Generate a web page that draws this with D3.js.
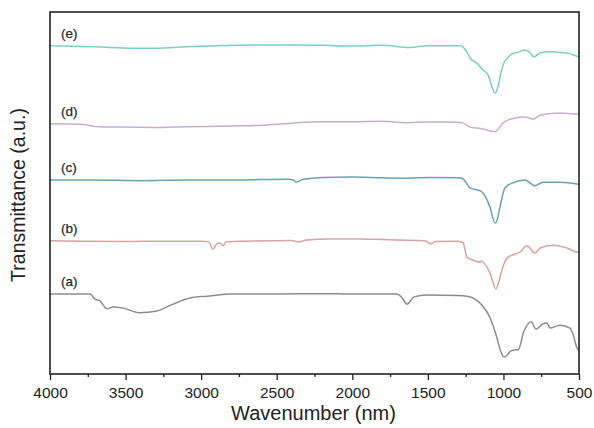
<!DOCTYPE html>
<html>
<head>
<meta charset="utf-8">
<script src="https://cdn.jsdelivr.net/npm/d3@7/dist/d3.min.js"></script>
<style>
  html, body { margin: 0; padding: 0; background: #fff; }
  svg { display: block; font-family: Arial, "Liberation Sans", sans-serif; }
</style>
</head>
<body>
<svg id="chart" width="594" height="428"></svg>
<script>
// FTIR spectra, offset vertically: [wavenumber (cm-1), transmittance (a.u.)]
const seriesA = [
  [4000,22.1],[3750,22.1],[3735,22.1],[3702,20.7],[3669,20.2],[3623,18.0],[3583,18.5],
  [3517,18.2],[3405,16.9],[3292,17.4],[3186,19.3],[3074,21.0],[2961,21.5],[2789,22.1],
  [2500,22.1],[2200,22.2],[2000,22.1],[1750,22.1],[1704,22.1],[1670,21.0],[1638,19.3],
  [1592,21.3],[1506,21.8],[1300,21.7],[1241,21.5],[1148,19.3],[1089,15.6],[1043,10.0],
  [1020,6.5],[996,4.7],[970,5.5],[950,6.4],[917,6.7],[903,6.6],[864,11.9],[844,13.5],
  [817,14.4],[784,12.4],[740,13.8],[712,14.1],[692,12.7],[626,13.5],[560,12.7],
  [540,11.0],[513,7.2],[500,6.5]
];
const seriesB = [
  [4000,36.8],[3800,36.7],[3500,36.6],[3200,36.7],[3000,36.7],[2950,36.5],[2922,34.5],
  [2895,36.0],[2875,36.2],[2855,35.4],[2835,36.5],[2700,36.7],[2400,36.9],[2360,36.5],
  [2300,37.0],[2167,37.3],[1942,37.3],[1700,37.0],[1520,36.8],[1479,35.9],[1450,36.6],
  [1300,36.7],[1267,36.2],[1241,32.2],[1221,31.8],[1155,30.9],[1148,31.2],[1089,27.9],
  [1049,23.5],[1030,25.5],[1010,28.7],[976,32.0],[890,33.7],[844,35.4],[791,33.4],
  [758,34.8],[672,35.6],[579,34.8],[513,33.7],[500,33.7]
];
const seriesC = [
  [4000,53.6],[3700,53.6],[3400,53.4],[3100,53.6],[2800,53.6],[2420,53.8],[2392,53.6],
  [2370,53.0],[2330,53.7],[2200,54.3],[2000,54.4],[1800,54.2],[1650,54.1],[1500,54.3],
  [1300,54.2],[1274,54.1],[1241,52.5],[1221,51.4],[1150,50.5],[1135,50.0],[1089,46.1],
  [1056,41.7],[1049,41.8],[1023,46.1],[990,51.4],[937,52.8],[857,53.6],[791,52.0],
  [738,53.0],[626,53.0],[513,52.5],[500,52.4]
];
const seriesD = [
  [4000,69.1],[3800,69.0],[3700,68.4],[3550,68.2],[3300,68.1],[3100,68.3],[2800,68.5],
  [2560,68.8],[2400,69.3],[2200,69.7],[2000,69.7],[1800,69.8],[1650,69.4],[1550,69.6],
  [1350,69.6],[1274,69.4],[1221,68.2],[1150,67.8],[1109,67.4],[1056,66.9],[1003,69.3],
  [937,70.6],[857,71.0],[804,70.4],[758,71.5],[626,72.1],[513,71.8],[500,71.8]
];
const seriesE = [
  [4000,90.7],[3700,90.4],[3451,90.0],[3300,90.0],[3100,90.4],[2900,90.7],[2611,90.9],
  [2412,90.9],[2200,90.8],[2000,90.6],[1800,90.8],[1620,90.2],[1500,90.7],[1300,90.7],
  [1274,90.6],[1261,90.0],[1241,89.0],[1221,87.3],[1180,86.0],[1135,84.0],[1100,82.5],
  [1076,79.3],[1056,77.6],[1049,77.8],[1030,80.5],[1010,84.3],[990,86.5],[976,87.2],
  [940,88.5],[910,88.8],[857,89.5],[830,89.0],[797,87.6],[758,88.7],[700,89.0],
  [672,89.0],[620,88.8],[579,88.7],[540,88.2],[500,87.6]
];

const seriesLabels = ["(a)", "(b)", "(c)", "(d)", "(e)"];
const seriesColors = ["#8c8c8c", "#d6a3a3", "#6aa2b1", "#c9adcf", "#80cbc8"];
const xTicks = [4000, 3500, 3000, 2500, 2000, 1500, 1000, 500];
const xMinorTicks = [3750, 3250, 2750, 2250, 1750, 1250, 750];

const allSeries = [seriesA, seriesB, seriesC, seriesD, seriesE];

const svg = d3.select("#chart");
const margin = { left: 50, top: 12, right: 15, bottom: 54 };
const W = 594, H = 428;
const plotW = W - margin.left - margin.right;
const plotH = H - margin.top - margin.bottom;

const x = d3.scaleLinear().domain([4000, 500]).range([margin.left, margin.left + plotW]);
const y = d3.scaleLinear().domain([0, 100]).range([margin.top + plotH, margin.top]);

const line = d3.line()
  .x(d => x(d[0]))
  .y(d => y(d[1]))
  .curve(d3.curveMonotoneX);

// spectra with their letter labels
const g = svg.append("g");
allSeries.forEach((s, i) => {
  g.append("path")
    .datum(s)
    .attr("fill", "none")
    .attr("stroke", seriesColors[i])
    .attr("stroke-width", 1.5)
    .attr("stroke-linejoin", "round")
    .attr("d", line);
  g.append("text")
    .attr("x", margin.left + 11)
    .attr("y", y(s[0][1]) - 12 + 4)
    .attr("font-size", 13.5)
    .attr("fill", "#2a2a2a")
    .attr("stroke", "#2a2a2a")
    .attr("stroke-width", 0.25)
    .text(seriesLabels[i]);
});

// bottom axis: major ticks with labels
const xAxis = d3.axisBottom(x).tickValues(xTicks).tickSize(6).tickFormat(d3.format("d"));
const ax = svg.append("g")
  .attr("transform", `translate(0,${margin.top + plotH})`)
  .call(xAxis);
ax.select(".domain").remove();
ax.selectAll(".tick line").attr("stroke", "#222").attr("stroke-width", 1.3);
ax.selectAll(".tick text")
  .attr("y", 24).attr("dy", null)
  .attr("font-size", 15.5)
  .attr("font-family", "Arial, 'Liberation Sans', sans-serif")
  .attr("fill", "#222");

// minor ticks
const minor = d3.axisBottom(x).tickValues(xMinorTicks).tickSize(3).tickFormat("");
const mx = svg.append("g")
  .attr("transform", `translate(0,${margin.top + plotH})`)
  .call(minor);
mx.select(".domain").remove();
mx.selectAll(".tick line").attr("stroke", "#222").attr("stroke-width", 1.3);

// frame
svg.append("rect")
  .attr("x", margin.left).attr("y", margin.top)
  .attr("width", plotW).attr("height", plotH)
  .attr("fill", "none").attr("stroke", "#222").attr("stroke-width", 1.6);

// axis titles
svg.append("text")
  .attr("x", margin.left + plotW / 2 - 1)
  .attr("y", 420)
  .attr("text-anchor", "middle")
  .attr("font-size", 20)
  .attr("fill", "#222")
  .text("Wavenumber (nm)");

svg.append("text")
  .attr("transform", "translate(25,195) rotate(-90)")
  .attr("text-anchor", "middle")
  .attr("font-size", 19.5)
  .attr("fill", "#222")
  .text("Transmittance (a.u.)");
</script>
</body>
</html>
